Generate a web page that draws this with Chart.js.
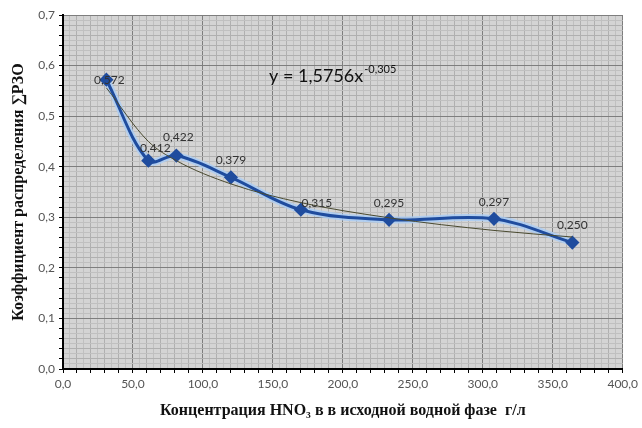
<!DOCTYPE html>
<html>
<head>
<meta charset="utf-8">
<script src="https://cdn.jsdelivr.net/npm/chart.js@4/dist/chart.umd.min.js"></script>
<style>
  body { margin: 0; background: #fff; }
  #cvs { display: block; }
</style>
</head>
<body>
<canvas id="cvs" width="642" height="428"></canvas>
<script>
//-------------------------------------------------------------------
// data
//-------------------------------------------------------------------
const concentration = [31, 61, 81, 120, 170, 233, 308, 364];
const distribution  = [0.572, 0.412, 0.422, 0.379, 0.315, 0.295, 0.297, 0.250];
const valueLabels   = ['0,572', '0,412', '0,422', '0,379', '0,315', '0,295', '0,297', '0,250'];
const trendValues   = [0.556, 0.450, 0.412, 0.366, 0.329, 0.299, 0.274, 0.261];
const trendEquation = 'y = 1,5756x';
const trendPower    = '-0,305';
const xTitle = 'Концентрация HNO₃ в в исходной водной фазе  г/л';
const yTitle = 'Коэффициент распределения ∑РЗО';

const toPoints = (xs, ys) => xs.map((x, i) => ({ x: x, y: ys[i] }));

//-------------------------------------------------------------------
// plugins
//-------------------------------------------------------------------
const plotBackground = {
  id: 'plotBackground',
  beforeDraw(chart) {
    const a = chart.chartArea;
    const ctx = chart.ctx;
    ctx.save();
    ctx.fillStyle = '#d4d4d4';
    ctx.fillRect(a.left, a.top, a.right - a.left, a.bottom - a.top);
    ctx.restore();
  }
};

// label offsets relative to each point
const labelOffsets = [[3, 0], [7, -13], [2, -18], [0, -17], [16, -7], [0, -17], [0, -17], [0, -17]];

const pointLabels = {
  id: 'pointLabels',
  afterDatasetsDraw(chart) {
    const ctx = chart.ctx;
    const meta = chart.getDatasetMeta(1);
    ctx.save();
    ctx.font = '12px Lato';
    ctx.fillStyle = '#333';
    ctx.textAlign = 'center';
    ctx.textBaseline = 'middle';
    meta.data.forEach((pt, i) => {
      ctx.fillText(valueLabels[i], pt.x + labelOffsets[i][0], pt.y + labelOffsets[i][1]);
    });

    // trend equation
    ctx.textAlign = 'left';
    ctx.textBaseline = 'alphabetic';
    ctx.fillStyle = '#111';
    ctx.font = '18px Lato';
    let x0 = 269, y0 = 82;
    ctx.fillText(trendEquation, x0, y0);
    let w = ctx.measureText(trendEquation).width;
    ctx.font = '11px Lato';
    ctx.fillText(trendPower, x0 + w + 1, y0 - 9);
    ctx.restore();
  }
};

//-------------------------------------------------------------------
// chart
//-------------------------------------------------------------------
const isMajorX = (v) => Math.abs(v % 50) < 1e-6;
const isMidX = (v) => Math.abs(v % 10) < 1e-6;
const isMajorY = (v) => Math.abs(Math.round(v * 100) % 10) === 0;
const isMidY = (v) => Math.abs(Math.round(v * 100) % 2) === 0;

const ctx = document.getElementById('cvs').getContext('2d');

new Chart(ctx, {
  type: 'line',
  data: {
    datasets: [
      {
        data: toPoints(concentration, trendValues),
        borderColor: '#4a4a30',
        borderWidth: 1,
        pointRadius: 0,
        cubicInterpolationMode: 'monotone',
        fill: false,
        order: 1
      },
      {
        data: toPoints(concentration, distribution),
        borderColor: '#1f4c9e',
        backgroundColor: '#1f4c9e',
        borderWidth: 3,
        tension: 0.35,
        pointStyle: 'rectRot',
        pointRadius: 5,
        pointBorderColor: '#1f4c9e',
        pointBackgroundColor: '#1f4c9e',
        fill: false,
        order: 2
      },
      {
        data: toPoints(concentration, distribution),
        borderColor: 'rgba(170,205,245,0.85)',
        borderWidth: 7,
        tension: 0.35,
        pointRadius: 0,
        fill: false,
        order: 3
      }
    ]
  },
  options: {
    responsive: false,
    animation: false,
    layout: { padding: { left: 0, right: 11, top: 15, bottom: 0 } },
    plugins: {
      legend: { display: false },
      tooltip: { enabled: false }
    },
    scales: {
      x: {
        type: 'linear',
        min: 0,
        max: 400,
        afterFit: (s) => { s.height = 59; },
        border: { color: '#000', width: 2 },
        grid: {
          color: (c) => isMajorX(c.tick.value) ? '#7e7e7e' : (isMidX(c.tick.value) ? '#b0b0b0' : '#c0c0c0'),
          tickColor: (c) => isMidX(c.tick.value) ? '#000' : 'rgba(0,0,0,0)',
          tickLength: 4,
          lineWidth: 1
        },
        ticks: {
          stepSize: 5,
          autoSkip: false,
          maxRotation: 0,
          maxTicksLimit: 200,
          color: '#555',
          font: { family: 'Lato', size: 12 },
          padding: 4,
          callback: (v) => isMajorX(v) ? v.toFixed(1).replace('.', ',') : ''
        },
        title: {
          display: true,
          text: xTitle,
          color: '#111',
          font: { family: 'Liberation Serif', size: 16, weight: 'bold' },
          padding: { top: 0, bottom: 8 }
        }
      },
      y: {
        type: 'linear',
        min: 0,
        max: 0.7,
        afterFit: (s) => { s.width = 63; },
        border: { color: '#000', width: 2 },
        grid: {
          color: (c) => isMajorY(c.tick.value) ? '#7e7e7e' : (isMidY(c.tick.value) ? '#b0b0b0' : '#c0c0c0'),
          tickColor: (c) => isMidY(c.tick.value) ? '#000' : 'rgba(0,0,0,0)',
          tickLength: 4,
          lineWidth: 1
        },
        ticks: {
          stepSize: 0.01,
          autoSkip: false,
          maxTicksLimit: 200,
          color: '#555',
          font: { family: 'Lato', size: 12 },
          padding: 4,
          callback: (v) => isMajorY(v) ? v.toFixed(1).replace('.', ',') : ''
        },
        title: {
          display: true,
          text: yTitle,
          color: '#111',
          font: { family: 'Liberation Serif', size: 16, weight: 'bold' },
          padding: { top: 9, bottom: 0 }
        }
      }
    }
  },
  plugins: [plotBackground, pointLabels]
});
</script>
</body>
</html>
